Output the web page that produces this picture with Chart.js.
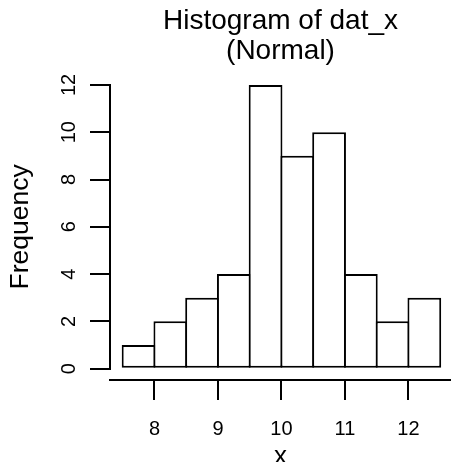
<!DOCTYPE html>
<html>
<head>
<meta charset="utf-8">
<script src="https://cdn.jsdelivr.net/npm/chart.js@4/dist/chart.umd.min.js"></script>
<style>
  html, body { margin: 0; padding: 0; background: #ffffff; overflow: hidden; }
  canvas { display: block; }
</style>
</head>
<body>
<canvas id="c" width="451" height="462"></canvas>
<script>
// ---- data ----
const binEdges = [7.5, 8, 8.5, 9, 9.5, 10, 10.5, 11, 11.5, 12, 12.5];
const frequencies = [1, 2, 3, 4, 12, 9, 10, 4, 2, 3];
const xTickValues = [8, 9, 10, 11, 12];
const yTickValues = [0, 2, 4, 6, 8, 10, 12];
const titleLines = ['Histogram of dat_x', '(Normal)'];
const xAxisLabel = 'x';
const yAxisLabel = 'Frequency';

const FONT = "'Liberation Sans', Arial, Helvetica, sans-serif";

const barData = frequencies.map((f, i) => ({ x: (binEdges[i] + binEdges[i + 1]) / 2, y: f }));

// R-style axis line for y: spans only from first to last tick
const yAxisLinePlugin = {
  id: 'yAxisLine',
  afterDraw(chart) {
    const y = chart.scales.y;
    const ctx = chart.ctx;
    const x = Math.round(y.right);
    ctx.save();
    ctx.strokeStyle = '#000';
    ctx.lineWidth = 2;
    ctx.beginPath();
    ctx.moveTo(x, Math.round(y.getPixelForValue(yTickValues[0])) + 1);
    ctx.lineTo(x, Math.round(y.getPixelForValue(yTickValues[yTickValues.length - 1])) - 1);
    ctx.stroke();
    ctx.restore();
  }
};

new Chart(document.getElementById('c'), {
  type: 'bar',
  data: {
    datasets: [{
      data: barData,
      backgroundColor: '#ffffff',
      borderColor: '#000000',
      borderWidth: 2,
      borderSkipped: false,
      barPercentage: 1.063,
      categoryPercentage: 1
    }]
  },
  options: {
    responsive: false,
    animation: false,
    devicePixelRatio: 1,
    layout: { padding: 0 },
    plugins: {
      legend: { display: false },
      tooltip: { enabled: false },
      title: {
        display: true,
        fullSize: false,
        text: titleLines,
        color: '#000',
        font: { family: FONT, size: 28, weight: 'normal', lineHeight: '30px' },
        padding: { top: 6, bottom: 7.6 }
      }
    },
    scales: {
      x: {
        type: 'linear',
        min: 7.3,
        max: 12.67,
        offset: false,
        afterFit(s) { s.height = 82; },
        afterBuildTicks(s) { s.ticks = xTickValues.map(v => ({ value: v })); },
        grid: { offset: false, drawOnChartArea: false, drawTicks: true, tickLength: 20, color: '#000', lineWidth: 2 },
        border: { display: true, color: '#000', width: 2 },
        ticks: { color: '#000', font: { family: FONT, size: 20 }, padding: 17.5, maxRotation: 0, minRotation: 0 },
        title: { display: true, text: xAxisLabel, color: '#000', font: { family: FONT, size: 26, lineHeight: '25px' }, padding: { top: 0, bottom: -7.5 } }
      },
      y: {
        type: 'linear',
        min: -0.48,
        max: 12.48,
        afterFit(s) { s.width = 110; },
        afterBuildTicks(s) { s.ticks = yTickValues.map(v => ({ value: v })); },
        grid: { drawOnChartArea: false, drawTicks: true, tickLength: 20, color: '#000', lineWidth: 2 },
        border: { display: false },
        ticks: { color: '#000', font: { family: FONT, size: 20 }, padding: 9.5, minRotation: 90, maxRotation: 90, crossAlign: 'center' },
        title: { display: true, text: yAxisLabel, color: '#000', font: { family: FONT, size: 26.5, lineHeight: '30px' }, padding: { top: 6, bottom: 0 } }
      }
    }
  },
  plugins: [yAxisLinePlugin]
});
</script>
</body>
</html>
